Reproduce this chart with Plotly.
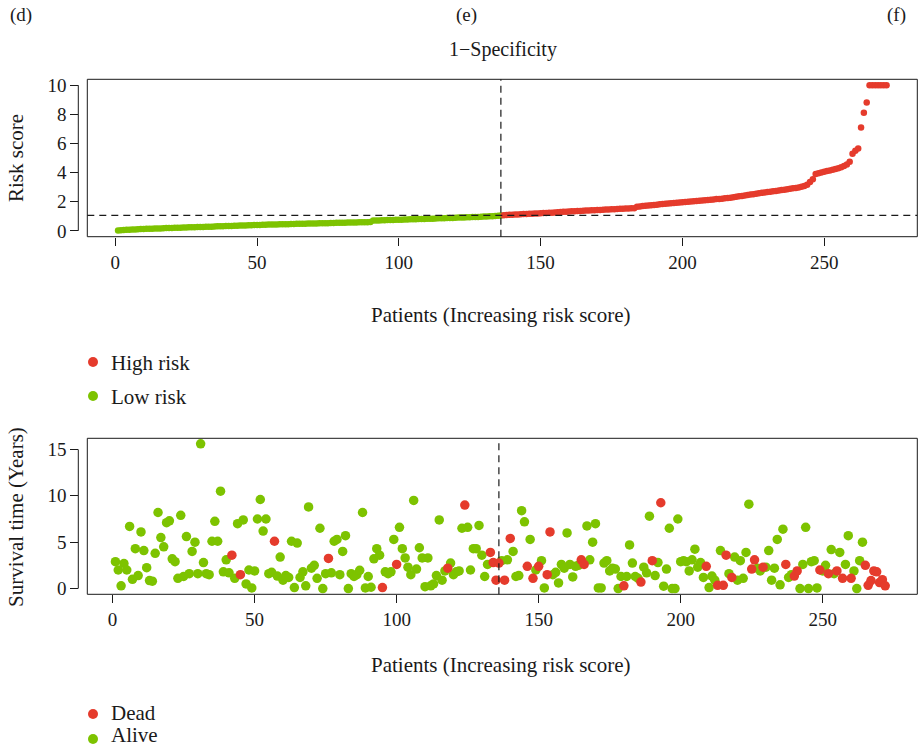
import plotly.graph_objects as go

# ---------------- data ----------------
risk_low = [
    0.02, 0.04, 0.06, 0.07, 0.08, 0.09, 0.10, 0.11, 0.12, 0.13,
    0.14, 0.14, 0.15, 0.16, 0.17, 0.17, 0.18, 0.19, 0.19, 0.20,
    0.21, 0.21, 0.22, 0.23, 0.23, 0.24, 0.25, 0.25, 0.26, 0.27,
    0.27, 0.28, 0.29, 0.29, 0.30, 0.31, 0.31, 0.32, 0.33, 0.33,
    0.34, 0.35, 0.35, 0.36, 0.37, 0.37, 0.38, 0.39, 0.40, 0.41,
    0.41, 0.42, 0.42, 0.43, 0.43, 0.44, 0.44, 0.45, 0.45, 0.46,
    0.46, 0.47, 0.47, 0.48, 0.48, 0.49, 0.49, 0.50, 0.50, 0.51,
    0.51, 0.52, 0.52, 0.53, 0.53, 0.54, 0.54, 0.55, 0.55, 0.56,
    0.56, 0.57, 0.57, 0.58, 0.58, 0.59, 0.59, 0.60, 0.60, 0.61,
    0.71, 0.72, 0.72, 0.73, 0.73, 0.74, 0.75, 0.75, 0.76, 0.76,
    0.77, 0.78, 0.78, 0.79, 0.80, 0.80, 0.81, 0.82, 0.82, 0.83,
    0.84, 0.84, 0.85, 0.86, 0.86, 0.87, 0.88, 0.88, 0.89, 0.90,
    0.91, 0.91, 0.92, 0.93, 0.94, 0.95, 0.95, 0.96, 0.97, 0.98,
    0.99, 1.00, 1.01, 1.02, 1.03, 1.05,
]
risk_high = [
    1.08, 1.09, 1.10, 1.11, 1.12, 1.13, 1.14, 1.15, 1.16, 1.17,
    1.18, 1.19, 1.20, 1.21, 1.22, 1.23, 1.24, 1.25, 1.26, 1.28,
    1.30, 1.31, 1.32, 1.33, 1.34, 1.35, 1.36, 1.37, 1.38, 1.39,
    1.40, 1.41, 1.42, 1.43, 1.44, 1.45, 1.46, 1.47, 1.48, 1.49,
    1.50, 1.51, 1.52, 1.53, 1.54, 1.55, 1.56,
    1.66, 1.68, 1.70, 1.72, 1.74, 1.76, 1.78, 1.80, 1.82, 1.84,
    1.86, 1.88, 1.90, 1.92, 1.93, 1.95, 1.97,
    1.98, 2.00, 2.01, 2.03, 2.05, 2.06, 2.08, 2.10, 2.12, 2.14,
    2.16, 2.18, 2.19, 2.21, 2.23, 2.25,
    2.28, 2.31, 2.34, 2.37, 2.40, 2.43,
    2.46, 2.49, 2.52, 2.55, 2.58, 2.61, 2.63, 2.66, 2.69, 2.71, 2.74, 2.77,
    2.80, 2.83, 2.86, 2.89, 2.92, 2.95, 2.98, 3.02, 3.08, 3.16,
    3.35, 3.55, 3.90,
    3.95, 4.00, 4.05, 4.10, 4.15, 4.20, 4.25, 4.30, 4.37, 4.45, 4.55,
    4.75,
    5.30, 5.50, 5.65, 7.10, 8.10, 8.80,
    10.0, 10.0, 10.0, 10.0, 10.0, 10.0, 10.0,
]
risk_cutoff = 1.07

# survival time (years) of each patient, in order of increasing risk score
surv_time = [
    2.9, 2.0, 0.3, 2.7, 2.0, 6.7, 1.0, 4.3, 1.4, 6.1,
    4.1, 2.25, 0.86, 0.8, 3.8, 8.2, 5.5, 4.5, 7.1, 7.3,
    3.2, 2.9, 1.1, 7.9, 1.3, 5.6, 1.6, 4.0, 5.0, 1.6,
    15.6, 2.8, 1.6, 1.5, 5.1, 7.25, 5.1, 10.5, 1.8, 3.1,
    1.7, 3.6, 1.1, 7.0, 1.5, 7.4, 0.5, 2.0, 0.07, 1.9,
    7.5, 9.6, 6.2, 7.5, 1.6, 1.75, 5.1, 1.35, 3.4, 0.9,
    1.4, 1.2, 5.1, 0.1, 4.9, 1.2, 1.8, 0.3, 8.8, 2.2,
    2.5, 1.1, 6.5, 0.0, 1.6, 3.25, 1.7, 5.1, 5.3, 1.5,
    4.0, 5.7, 0.0, 1.6, 1.3, 1.5, 1.96, 8.2, 0.07, 1.3,
    0.14, 3.2, 4.3, 3.6, 0.1, 1.8, 1.6, 1.8, 5.3, 2.6,
    6.6, 4.3, 3.3, 2.3, 1.5, 9.5, 2.1, 4.4, 3.3, 0.2,
    3.3, 0.3, 0.5, 1.4, 7.4, 0.9, 1.9, 2.2, 2.75, 1.5,
    1.8, 1.9, 6.5, 9.0, 6.6, 2.0, 4.3, 4.3, 6.8, 3.6,
    1.3, 2.6, 3.9, 2.8, 0.9, 2.75, 3.0, 0.9, 3.1, 5.4,
    4.0, 1.3, 1.4, 8.4, 7.2, 2.4, 5.3, 1.1, 2.0, 2.4,
    3.0, 0.07, 1.5, 6.1, 1.5, 1.75, 0.6, 2.6, 2.2, 6.0,
    2.6, 1.25, 2.4, 2.5, 3.1, 2.6, 6.75, 3.1, 5.0, 7.0,
    0.07, 0.07, 2.75, 3.0, 1.9, 2.2, 2.1, 0.0, 1.3, 0.3,
    1.3, 4.7, 2.75, 1.3, 1.1, 0.7, 2.3, 1.7, 7.8, 3.0,
    1.4, 2.8, 9.25, 0.25, 2.1, 6.5, 0.0, 0.0, 7.5, 2.9,
    3.0, 2.9, 1.9, 3.1, 4.25, 2.3, 2.8, 1.2, 2.4, 0.1,
    1.35, 0.9, 0.35, 4.1, 0.35, 3.6, 1.6, 1.2, 3.4, 0.9,
    3.0, 1.1, 3.9, 9.1, 2.1, 3.1, 2.2, 1.9, 2.3, 2.3,
    4.1, 0.9, 2.2, 5.3, 0.4, 6.4, 2.6, 1.2, 1.5, 1.35,
    1.9, 0.0, 2.6, 6.6, 0.0, 2.9, 3.0, 0.07, 2.0, 1.9,
    2.5, 1.6, 4.2, 1.6, 1.9, 3.9, 1.1, 2.6, 5.7, 1.1,
    1.9, 0.0, 3.0, 5.0, 2.5, 0.35, 0.86, 1.9, 1.8, 0.65,
    0.96, 0.3,
]
# vital status: 1 = dead, 0 = alive
surv_status = [
    0, 0, 0, 0, 0, 0, 0, 0, 0, 0,
    0, 0, 0, 0, 0, 0, 0, 0, 0, 0,
    0, 0, 0, 0, 0, 0, 0, 0, 0, 0,
    0, 0, 0, 0, 0, 0, 0, 0, 0, 0,
    0, 1, 0, 0, 1, 0, 0, 0, 0, 0,
    0, 0, 0, 0, 0, 0, 1, 0, 0, 0,
    0, 0, 0, 0, 0, 0, 0, 0, 0, 0,
    0, 0, 0, 0, 0, 1, 0, 0, 0, 0,
    0, 0, 0, 0, 0, 0, 0, 0, 0, 0,
    0, 0, 0, 0, 1, 0, 0, 0, 0, 1,
    0, 0, 0, 0, 0, 0, 0, 0, 0, 0,
    0, 0, 0, 0, 0, 0, 0, 1, 0, 0,
    0, 0, 0, 1, 0, 0, 0, 0, 0, 0,
    0, 0, 1, 1, 1, 1, 0, 1, 0, 1,
    0, 0, 0, 0, 0, 1, 0, 1, 0, 1,
    0, 0, 1, 1, 0, 0, 0, 0, 0, 0,
    0, 0, 0, 0, 1, 1, 0, 0, 0, 0,
    0, 0, 0, 0, 0, 0, 0, 0, 0, 1,
    0, 0, 0, 0, 0, 1, 0, 0, 0, 1,
    0, 0, 1, 0, 0, 0, 0, 0, 0, 0,
    0, 0, 0, 0, 0, 0, 0, 0, 1, 0,
    0, 0, 1, 0, 1, 1, 0, 1, 0, 0,
    0, 0, 0, 0, 1, 1, 0, 0, 1, 0,
    0, 0, 0, 0, 0, 0, 1, 0, 0, 1,
    1, 0, 0, 0, 0, 0, 0, 0, 1, 0,
    0, 1, 0, 0, 1, 0, 1, 0, 0, 1,
    0, 0, 0, 0, 1, 1, 1, 1, 1, 1,
    1, 1,
]

x_ticks = [0, 50, 100, 150, 200, 250]
risk_ticks = [0, 2, 4, 6, 8, 10]
surv_ticks = [0, 5, 10, 15]
panel_labels = ["(d)", "(e)", "(f)"]
risk_legend = ["High risk", "Low risk"]
status_legend = ["Dead", "Alive"]

# ---------------- styling ----------------
RED = "#E53B2C"
GREEN = "#7DC300"
FONT = "Liberation Serif"
INK = "#1a1a1a"
W, H = 918, 750

def px_x(p):
    return p / W

def px_y(p):
    return 1 - p / H

n_low = len(risk_low)
n_all = n_low + len(risk_high)
idx_low = list(range(1, n_low + 1))
idx_high = list(range(n_low + 1, n_all + 1))
idx_all = list(range(1, n_all + 1))

dead_x = [i for i, s in zip(idx_all, surv_status) if s == 1]
dead_y = [t for t, s in zip(surv_time, surv_status) if s == 1]
alive_x = [i for i, s in zip(idx_all, surv_status) if s == 0]
alive_y = [t for t, s in zip(surv_time, surv_status) if s == 0]

fig = go.Figure()

# top: risk score
fig.add_trace(go.Scatter(x=idx_low, y=risk_low, mode="markers", xaxis="x", yaxis="y",
                         name=risk_legend[1], marker=dict(color=GREEN, size=6.5), showlegend=False))
fig.add_trace(go.Scatter(x=idx_high, y=risk_high, mode="markers", xaxis="x", yaxis="y",
                         name=risk_legend[0], marker=dict(color=RED, size=6.5), showlegend=False))
# bottom: survival
fig.add_trace(go.Scatter(x=alive_x, y=alive_y, mode="markers", xaxis="x2", yaxis="y2",
                         name=status_legend[1], marker=dict(color=GREEN, size=9.5), showlegend=False))
fig.add_trace(go.Scatter(x=dead_x, y=dead_y, mode="markers", xaxis="x2", yaxis="y2",
                         name=status_legend[0], marker=dict(color=RED, size=9.5), showlegend=False))

box_l, box_r = 87.3, 917.3
top_t, top_b = 79.3, 236.7
bot_t, bot_b = 438.3, 594.3
yaxis_pos = 78.3

axis_common = dict(showgrid=False, zeroline=False, showline=False, ticks="outside",
                   ticklen=8, tickwidth=1, tickcolor=INK,
                   tickfont=dict(family=FONT, size=19, color=INK))

fig.update_layout(
    width=W, height=H,
    margin=dict(l=0, r=0, t=0, b=0, autoexpand=False),
    paper_bgcolor="white", plot_bgcolor="white",
    showlegend=False,
    xaxis=dict(domain=[px_x(box_l), px_x(box_r)], range=[-9.84, 282.84], anchor="y",
               tickvals=x_ticks, ticklabelstandoff=0, **axis_common),
    yaxis=dict(domain=[px_y(top_b), px_y(top_t)], range=[-0.4, 10.4], anchor="free",
               position=px_x(yaxis_pos), tickvals=risk_ticks, **axis_common),
    xaxis2=dict(domain=[px_x(box_l), px_x(box_r)], range=[-8.9, 283.3], anchor="y2",
                tickvals=x_ticks, ticklabelstandoff=0, **axis_common),
    yaxis2=dict(domain=[px_y(bot_b), px_y(bot_t)], range=[-0.62, 16.2], anchor="free",
                position=px_x(yaxis_pos), tickvals=surv_ticks, **axis_common),
)

shapes = []
# boxes
for xr, yr in [("x", "y"), ("x2", "y2")]:
    shapes.append(dict(type="rect", xref=f"{xr} domain", yref=f"{yr} domain",
                       x0=0, x1=1, y0=0, y1=1, line=dict(color=INK, width=1)))
# y axis lines spanning tick range
shapes.append(dict(type="line", xref="paper", yref="y", x0=px_x(yaxis_pos), x1=px_x(yaxis_pos),
                   y0=risk_ticks[0], y1=risk_ticks[-1], line=dict(color=INK, width=1)))
shapes.append(dict(type="line", xref="paper", yref="y2", x0=px_x(yaxis_pos), x1=px_x(yaxis_pos),
                   y0=surv_ticks[0], y1=surv_ticks[-1], line=dict(color=INK, width=1)))
# cutoff dashed lines
dash = "7px,5px"
shapes.append(dict(type="line", xref="x", yref="y domain", x0=n_low, x1=n_low, y0=0, y1=1,
                   line=dict(color=INK, width=1.2, dash=dash)))
shapes.append(dict(type="line", xref="x domain", yref="y", x0=0, x1=1, y0=risk_cutoff, y1=risk_cutoff,
                   line=dict(color=INK, width=1.2, dash=dash)))
shapes.append(dict(type="line", xref="x2", yref="y2 domain", x0=n_low, x1=n_low, y0=0, y1=1,
                   line=dict(color=INK, width=1.2, dash=dash)))

ann = []
def text(x, y, s, size=21, angle=0, anchor="center"):
    ann.append(dict(x=px_x(x), y=px_y(y), xref="paper", yref="paper", text=s, showarrow=False,
                    xanchor=anchor, yanchor="middle", textangle=angle,
                    font=dict(family=FONT, size=size, color=INK)))

# legends (dot + label)
def legend_item(cx, cy, col, label, ty=None):
    r = 5
    shapes.append(dict(type="circle", xref="paper", yref="paper",
                       x0=px_x(cx - r), x1=px_x(cx + r), y0=px_y(cy + r), y1=px_y(cy - r),
                       fillcolor=col, line=dict(width=0)))
    text(cx + 16, cy + 1 if ty is None else ty, label, 21, anchor="left")

legend_item(93, 362, RED, risk_legend[0])
legend_item(93, 396, GREEN, risk_legend[1])
legend_item(93, 714, RED, status_legend[0], 713)
legend_item(93, 739, GREEN, status_legend[1], 735)

text(21, 15, panel_labels[0], 19)
text(466, 15, panel_labels[1], 19)
text(896, 15, panel_labels[2], 19)
text(503, 50, "1\u2212Specificity", 20)
text(16, 158, "Risk score", 21, -90)
text(16, 517, "Survival time (Years)", 21, -90)
text(501, 315, "Patients (Increasing risk score)", 21)
text(501, 665, "Patients (Increasing risk score)", 21)

fig.update_layout(shapes=shapes, annotations=ann)

fig.write_html("out.html")
